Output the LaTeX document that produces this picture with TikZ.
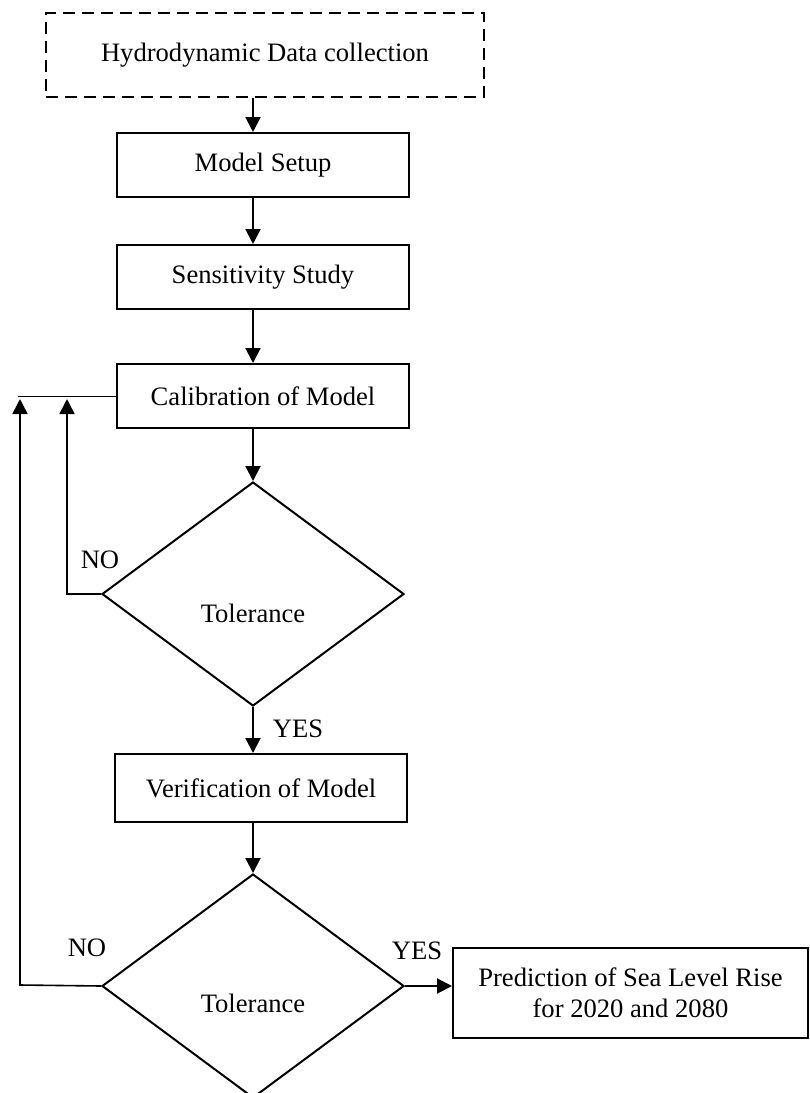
\documentclass[tikz,border=0pt]{standalone}
\usepackage{fontspec}
\setmainfont{Liberation Serif}
\usetikzlibrary{arrows.meta,positioning,shapes.geometric,calc}

\begin{document}
\begin{tikzpicture}[
  x=1pt, y=-1pt,
  font=\fontsize{26.6}{31}\selectfont,
  stepbox/.style={rectangle, draw, line width=2pt, minimum width=292pt, minimum height=64pt, inner sep=0pt, align=center},
  decision/.style={diamond, draw, line width=2pt, minimum width=302pt, minimum height=224pt, inner sep=0pt},
  arr/.style={-{Triangle[width=15pt,length=15pt]}, line width=2pt},
  loop/.style={line width=1.6pt}
]
\useasboundingbox (0,0) rectangle (810,1093);
\clip (0,0) rectangle (810,1093);

% main column
\coordinate (spine) at (253,0);
\node[stepbox, dashed, dash pattern=on 12pt off 7pt, minimum width=438pt, minimum height=84pt] (data) at (265,55) {Hydrodynamic Data collection};
\node[stepbox] (setup) at (263,165) {Model Setup};
\node[stepbox] (sens) at (263,277) {Sensitivity Study};
\node[stepbox] (calib) at (263,396) {Calibration of Model};
\node[decision] (tol1) at (253,594) {};
\node at (253,613) {Tolerance};
\node[stepbox, minimum height=68pt] (verif) at (261,788) {Verification of Model};
\node[decision] (tol2) at (253,986) {};
\node at (253,1003) {Tolerance};
\node[stepbox, minimum width=355pt, minimum height=90pt] (pred) at (630.5,993) {Prediction of Sea Level Rise\\for 2020 and 2080};

% arrows
\draw[arr] (data.south -| spine) -- (setup.north -| spine);
\draw[arr] (setup.south -| spine) -- (sens.north -| spine);
\draw[arr] (sens.south -| spine) -- (calib.north -| spine);
\draw[arr] (calib.south -| spine) -- (tol1.north);
\draw[arr] (tol1.south) -- (verif.north -| spine);
\draw[arr] (verif.south -| spine) -- (tol2.north);
\draw[arr] (tol2.east) -- (tol2.east -| pred.west);

% feedback
\coordinate (in1) at (67,399);
\coordinate (in2) at (20,399);
\coordinate (tail) at (18,396);
\draw[arr, loop] (tol1.west) -| (in1);
\draw[arr, loop] (tol2.west) -- (20,985) -- (in2);
\draw[line width=0.9pt] (calib.west) -- (tail);

% labels
\node (no1) at (100,560) {NO};
\node (no2) at (87,948) {NO};
\node (yes1) at (298,729) {YES};
\node (yes2) at (417,951) {YES};

\end{tikzpicture}
\end{document}
